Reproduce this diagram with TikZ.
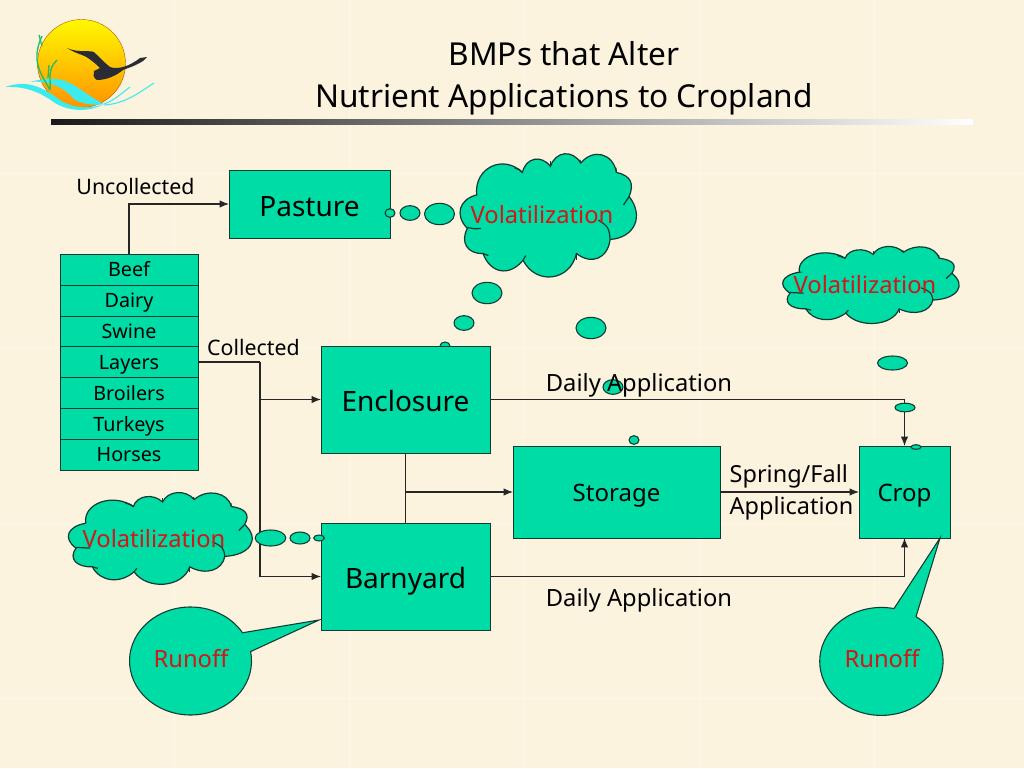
\documentclass[tikz,border=0pt]{standalone}
\usepackage{fontspec}
\usetikzlibrary{shapes.geometric,arrows.meta}
\setmainfont{Noto Sans}
\definecolor{paper}{HTML}{FBF3DE}
\definecolor{mint}{HTML}{00DCA5}
\definecolor{outline}{HTML}{0F3A30}
\definecolor{alert}{HTML}{D01818}
\definecolor{goose}{HTML}{2B2B33}
\definecolor{reed}{HTML}{22BE62}
\definecolor{wave}{HTML}{3CEBEE}
\newcommand{\puffshape}{
    (53,125) to[bend left=70] (190,58) to[bend left=65] (274,40)
    to[bend left=65] (365,30) to[bend left=65] (472,58)
    to[bend left=50] (510,130) to[bend left=62] (453,258)
    to[bend left=60] (352,300) to[bend left=70] (192,320)
    to[bend left=60] (72,300) to[bend left=60] (25,225)
    to[bend left=60] cycle
}
\newcommand{\puffcloud}[4]{
    \begin{scope}[shift={(#1,#2)},xscale=#3/532,yscale=#4/370,looseness=1.35]
        \fill[mint] \puffshape;
        \draw[puffline] \puffshape;
        \draw[puffline] (418,200) to[bend left=25] (453,258);
        \draw[puffline] (66,225) to[bend left=8] (25,222);
        \draw[puffline] (190,58) to[bend right=15] (167,45);
        \draw[puffline] (274,40) to[bend right=10] (274,24);
        \draw[puffline] (365,30) to[bend right=10] (362,20);
        \draw[puffline] (472,58) to[bend right=10] (470,44);
        \draw[puffline] (510,130) to[bend left=10] (493,155);
        \draw[puffline] (352,300) to[bend left=10] (352,320);
        \draw[puffline] (192,320) to[bend left=10] (200,306);
        \draw[puffline] (72,300) to[bend right=10] (88,306);
    \end{scope}
}
\begin{document}
\begin{tikzpicture}[x=0.75pt,y=-0.75pt,>={Latex[length=7pt,width=5.5pt]}]
    \tikzstyle{flowbox}=[draw=outline,fill=mint,line width=0.7pt,inner sep=0pt,outer sep=0pt,rectangle,text height=22pt,text depth=3.5pt,font=\fontsize{21}{26}\selectfont]
    \tikzstyle{smallbox}=[flowbox,minimum height=69pt,text height=18pt,text depth=3.5pt,font=\fontsize{18}{22}\selectfont]
    \tikzstyle{rowbox}=[draw=outline,fill=mint,line width=0.7pt,inner sep=0pt,outer sep=0pt,rectangle,minimum width=103.5pt,minimum height=23.2pt,text height=12.5pt,text depth=2pt,font=\fontsize{14.8}{18}\selectfont]
    \tikzstyle{callout}=[draw=outline,fill=mint,line width=0.8pt]
    \tikzstyle{bubble}=[draw=outline,fill=mint,line width=0.8pt,ellipse,inner sep=0pt]
    \tikzstyle{puffline}=[draw=outline,line width=0.9pt]
    \tikzstyle{label}=[inner sep=0pt,font=\fontsize{17.8}{21}\selectfont]
    \tikzstyle{shortlabel}=[inner sep=0pt,font=\fontsize{16}{20}\selectfont]
    \tikzstyle{redlabel}=[inner sep=0pt,text=alert,font=\fontsize{17.8}{22}\selectfont]
    \tikzstyle{link}=[draw=black!85,line width=0.8pt]

    \useasboundingbox (0,0) rectangle (1024,768);
    \fill[paper] (0,0) rectangle (1024,768);
    \foreach \seam in {174,349,524,699,874}
        \draw[white,opacity=0.35,line width=0.7pt] (\seam,0) -- (\seam,768);
    \foreach \seam in {173,348,523,698}
        \draw[white,opacity=0.35,line width=0.7pt] (0,\seam) -- (1024,\seam);

    % logo
    \shade[top color=yellow!95!orange,bottom color=orange!85!yellow,draw=orange!70!black,line width=0.3pt] (81.5,63.5) circle (44);
    \fill[wave] (5,87) .. controls (25,80) and (40,85) .. (60,100) .. controls (75,110) and (95,108) .. (104,104)
        .. controls (90,112) and (70,112) .. (55,103) .. controls (40,92) and (25,86) .. (5,87) -- cycle;
    \fill[wave] (30,82) .. controls (45,78) and (60,76) .. (75,86) .. controls (85,92) and (95,100) .. (104,104)
        .. controls (92,106) and (85,104) .. (75,100) .. controls (65,88) and (50,80) .. (30,82) -- cycle;
    \draw[wave,line width=0.8pt] (104,104) .. controls (115,100) and (122,93) .. (130,87);
    \draw[wave,line width=0.8pt] (104,105) .. controls (125,104) and (140,92) .. (154,83);
    \draw[reed,line width=1pt] (50,90) .. controls (42,75) and (30,62) .. (42,36);
    \draw[reed,line width=1pt] (42,46) -- (39,35);
    \draw[reed,line width=1pt] (50,90) .. controls (51,78) and (47,70) .. (57,60);
    \draw[reed,line width=1pt] (48,78) -- (49,65);
    \fill[goose] (67,48) .. controls (78,53) and (88,50) .. (94,52) .. controls (100,58) and (106,64) .. (110,67)
        .. controls (118,70) and (130,66) .. (140,58) -- (147,57) -- (143,61) .. controls (135,66) and (128,68) .. (123,70)
        .. controls (116,76) and (106,80) .. (97,80) .. controls (93,78) and (93,74) .. (94,71)
        -- (100,68) .. controls (94,62) and (86,56) .. (82,55) .. controls (76,53) and (72,51) .. (67,48) -- cycle;

    % title
    \node[inner sep=0pt,align=center,font=\fontsize{23.7}{31.5}\selectfont] at (564,78) (title) {BMPs that Alter\\Nutrient Applications to Cropland};
    \shade[left color=black!90,right color=white,draw=none] (51,119) rectangle (973,124);

    % bubbles under the boxes
    \node[bubble,minimum width=7.5pt,minimum height=6pt] at (445,346) (e3) {};

    % clouds
    \puffcloud{459}{153}{177.5}{124}
    \puffcloud{781.7}{246}{177.5}{77.5}
    \puffcloud{67.3}{492}{185}{92.3}
    \node[redlabel] at (542,214.5) (cloudtop) {Volatilization};
    \node[redlabel] at (865,285) (cloudright) {Volatilization};
    \node[redlabel] at (154,538.5) (cloudleft) {Volatilization};

    % boxes
    \node[flowbox,minimum width=120.75pt,minimum height=51pt] at (309.5,204) (pasture) {Pasture};
    \node[flowbox,minimum width=126.75pt,minimum height=80.25pt] at (405.5,399.5) (enclosure) {Enclosure};
    \node[flowbox,minimum width=126.75pt,minimum height=80.25pt] at (405.5,576.5) (barnyard) {Barnyard};
    \node[smallbox,minimum width=155.25pt] at (616.5,492) (storage) {Storage};
    \node[smallbox,minimum width=68.25pt] at (904.5,492) (crop) {Crop};

    \node[rowbox] at (129,269.5) (beef) {Beef};
    \node[rowbox] at (129,300.5) (dairy) {Dairy};
    \node[rowbox] at (129,331.5) (swine) {Swine};
    \node[rowbox] at (129,362) (layers) {Layers};
    \node[rowbox] at (129,393) (broilers) {Broilers};
    \node[rowbox] at (129,424) (turkeys) {Turkeys};
    \node[rowbox] at (129,454.5) (horses) {Horses};

    % connectors
    \coordinate (split) at (260,362);
    \coordinate (branch) at (405.5,492);
    \draw[link,->] (beef.north) |- (pasture.west);
    \draw[link] (layers.east) -- (split);
    \draw[link,->] (split) |- (enclosure.west);
    \draw[link,->] (split) |- (barnyard.west);
    \draw[link] (enclosure.south) -- (barnyard.north);
    \draw[link,->] (branch) -- (storage.west);
    \draw[link,->] (storage.east) -- (crop.west);
    \draw[link,->] (enclosure.east) -| (crop.north);
    \draw[link,->] (barnyard.east) -| (crop.south);

    % bubbles
    \node[bubble,minimum width=7.5pt,minimum height=6.5pt] at (390,213) (p1) {};
    \node[bubble,minimum width=15pt,minimum height=11pt] at (410,213) (p2) {};
    \node[bubble,minimum width=22.5pt,minimum height=16pt] at (439.5,214) (p3) {};
    \node[bubble,minimum width=22.5pt,minimum height=16pt] at (487,293) (e1) {};
    \node[bubble,minimum width=15pt,minimum height=11pt] at (464,323) (e2) {};
    \node[bubble,minimum width=22.5pt,minimum height=16pt] at (591,328) (s1) {};
    \node[bubble,minimum width=15pt,minimum height=11pt] at (613,387) (s2) {};
    \node[bubble,minimum width=7.5pt,minimum height=6.5pt] at (634,440) (s3) {};
    \node[bubble,minimum width=22.5pt,minimum height=10.5pt] at (892.5,363) (c1) {};
    \node[bubble,minimum width=15pt,minimum height=6.5pt] at (905,407.5) (c2) {};
    \node[bubble,minimum width=7.5pt,minimum height=3.5pt] at (916,447) (c3) {};
    \node[bubble,minimum width=23pt,minimum height=12pt] at (270.5,538) (v1) {};
    \node[bubble,minimum width=15pt,minimum height=9pt] at (300,538) (v2) {};
    \node[bubble,minimum width=8pt,minimum height=4.5pt] at (319,538) (v3) {};

    % callouts
    \coordinate (tipleft) at (319,620);
    \coordinate (tipright) at (940,538);
    \draw[callout] (250.6,651.6) arc[start angle=-10,end angle=328.5,x radius=61,y radius=54] -- (tipleft) -- cycle;
    \draw[callout] (916,616.7) arc[start angle=-55.9,end angle=281.8,x radius=61.7,y radius=54] -- (tipright) -- cycle;
    \node[redlabel] at (191,659) (runoffleft) {Runoff};
    \node[redlabel] at (882,659) (runoffright) {Runoff};

    % labels
    \node[shortlabel] at (135.5,186) (uncollected) {Uncollected};
    \node[shortlabel] at (253.5,347) (collected) {Collected};
    \node[label] at (639,385.5) (dailytop) {Daily Application};
    \node[label] at (639,600.5) (dailybottom) {Daily Application};
    \node[label,align=left,font=\fontsize{17.6}{24}\selectfont] at (791.5,492.5) (springfall) {Spring/Fall\\Application};
\end{tikzpicture}
\end{document}
